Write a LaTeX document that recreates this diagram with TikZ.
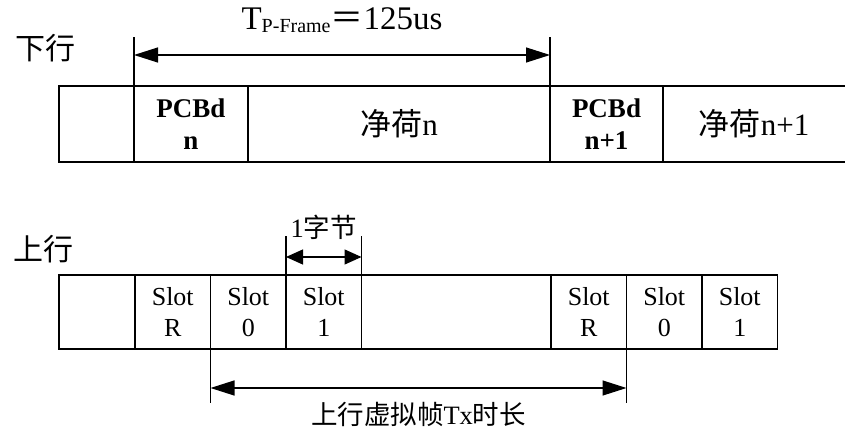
\documentclass[tikz,border=0pt]{standalone}
\usepackage{fontspec}
\setmainfont{Liberation Serif}
\newfontfamily\zhfont{Noto Sans CJK SC}
\usetikzlibrary{arrows.meta,positioning}
\tikzset{
  cell/.style={draw=black, line width=1.7pt, inner sep=0pt, outer sep=0pt,
        minimum width=75.5pt, minimum height=74pt, align=center,
        font=\fontsize{26}{31}\selectfont},
  pcbcell/.style={cell, minimum height=76pt, font=\fontsize{27}{32}\selectfont\bfseries},
  loadcell/.style={cell, minimum height=76pt, font=\fontsize{31}{34}\selectfont},
  opencell/.style={loadcell, draw=none},
  frame/.style={draw=black, line width=2.6pt},
  ext/.style={draw=black, line width=1.4pt},
  dim/.style={{Triangle[length=24pt,width=15pt]}-{Triangle[length=24pt,width=15pt]},
        line width=1.2pt},
  sdim/.style={{Triangle[length=17pt,width=15pt]}-{Triangle[length=17pt,width=15pt]},
        line width=1.2pt},
  rowtitle/.style={font=\fontsize{30}{31}\selectfont\zhfont, inner sep=0pt},
  dimlbl/.style={font=\fontsize{26.5}{30}\selectfont, inner sep=0pt}
}

\begin{document}
\begin{tikzpicture}[x=1pt, y=-1pt]
\useasboundingbox (0,0) rectangle (845,430);

% downstream
\node[rowtitle] (down) at (45,48) {下行};
\node[cell, minimum width=75pt, minimum height=76pt, anchor=north west] (dgap) at (59,86) {};
\node[pcbcell, minimum width=114pt, right=0pt of dgap] (pcbd) {PCBd\\n};
\node[loadcell, minimum width=302pt, right=0pt of pcbd] (load) {{\zhfont 净荷}n};
\node[pcbcell, minimum width=113pt, right=0pt of load] (pcbdnext) {PCBd\\n+1};
\node[opencell, minimum width=182pt, right=0pt of pcbdnext] (loadnext) {{\zhfont 净荷}n+1};
\draw[cell] (loadnext.north west) -- (loadnext.north east)
           (loadnext.south west) -- (loadnext.south east);
\draw[frame] (pcbd.north west) rectangle (load.south east);

% frame length
\coordinate (ftl) at ([yshift=49pt]pcbd.north west);
\coordinate (ftr) at ([yshift=49pt]load.north east);
\draw[ext] (pcbd.north west) -- (ftl) (load.north east) -- (ftr);
\coordinate (fal) at ([yshift=31pt]pcbd.north west);
\coordinate (far) at ([yshift=31pt]load.north east);
\draw[dim] (fal) -- node[dimlbl, anchor=base, yshift=25pt, font=\fontsize{33}{36}\selectfont]
  {T\raisebox{-3pt}{\fontsize{20}{22}\selectfont P-Frame}{\zhfont ＝}125us} (far);

% upstream
\node[rowtitle] (up) at (43,249) {上行};
\node[cell, minimum width=76pt, anchor=north west] (ugap) at (59,275) {};
\node[cell, right=0pt of ugap] (slotr) {Slot\\R};
\node[cell, right=0pt of slotr] (slota) {Slot\\0};
\node[cell, right=0pt of slota] (slotb) {Slot\\1};
\node[cell, minimum width=189.5pt, right=0pt of slotb] (uidle) {};
\node[cell, right=0pt of uidle] (slotrnext) {Slot\\R};
\node[cell, right=0pt of slotrnext] (slotanext) {Slot\\0};
\node[cell, right=0pt of slotanext] (slotbnext) {Slot\\1};

% one byte
\coordinate (btl) at ([yshift=39pt]slotb.north west);
\coordinate (btr) at ([yshift=39pt]slotb.north east);
\draw[ext] (slotb.north west) -- (btl) (slotb.north east) -- (btr);
\coordinate (bal) at ([yshift=18pt]slotb.north west);
\coordinate (bar) at ([yshift=18pt]slotb.north east);
\draw[sdim] (bal) -- node[dimlbl, yshift=30pt] {1{\zhfont 字节}} (bar);

% Tx length
\coordinate (xbl) at ([yshift=-54pt]slota.south west);
\coordinate (xbr) at ([yshift=-54pt]slotanext.south west);
\draw[ext] (slota.south west) -- (xbl) (slotanext.south west) -- (xbr);
\coordinate (xal) at ([yshift=-39pt]slota.south west);
\coordinate (xar) at ([yshift=-39pt]slotanext.south west);
\draw[dim] (xal) -- node[dimlbl, yshift=-26pt] {{\zhfont 上行虚拟帧}Tx{\zhfont 时长}} (xar);
\end{tikzpicture}
\end{document}
